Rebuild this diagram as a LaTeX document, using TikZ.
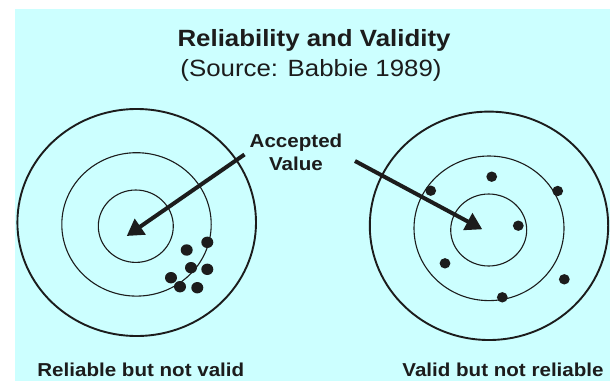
\documentclass[tikz,border=0pt]{standalone}
\usepackage{fontspec}
\setmainfont[FakeStretch=1.1]{Liberation Sans}
\usetikzlibrary{arrows.meta}
\definecolor{bgcyan}{HTML}{CCFFFF}
\definecolor{ink}{HTML}{1C1C1C}
\tikzset{
  ring/.style={draw=ink, line width=1.1pt},
  outerring/.style={draw=ink, line width=1.9pt},
  shot/.style={fill=ink, draw=none},
  pointer/.style={draw=ink, line width=4pt, -{Triangle[length=16.5pt,width=18.5pt]}},
  titletext/.style={inner sep=0pt, anchor=base, text=ink, font=\bfseries\fontsize{23.5}{28}\selectfont},
  subtext/.style={inner sep=0pt, anchor=base, text=ink, font=\fontsize{23.5}{28}\selectfont},
  labeltext/.style={inner sep=0pt, anchor=base, text=ink, font=\bfseries\fontsize{18.7}{23}\selectfont},
}
\begin{document}
\begin{tikzpicture}[x=1pt,y=-1pt]
\useasboundingbox (0,0) rectangle (610,381);
\fill[bgcyan] (15,9.3) rectangle (610,381);

% titles
\node[titletext] (title) at (314,46) {Reliability and Validity};
\node[subtext] (source) at (311,76.5) {(Source: Babbie 1989)};

% left target
\draw[outerring] (136.7,222.5) ellipse [x radius=119.3, y radius=113.5];
\draw[ring] (136.5,224.4) ellipse [x radius=74.7, y radius=71.7];
\draw[ring] (135.8,226.2) ellipse [x radius=37.5, y radius=36.2];

% right target
\draw[outerring] (489,225.8) ellipse [x radius=119.2, y radius=114.2];
\draw[ring] (489,228.3) ellipse [x radius=75, y radius=72.3];
\draw[ring] (488.7,230) ellipse [x radius=38, y radius=36];

% left shots (clustered)
\foreach \x/\y in {207.3/242.3, 186.7/250, 191/267.7, 207.3/269.3, 171/277.7, 180/286.7, 197.3/287.7}
  \fill[shot] (\x,\y) ellipse [x radius=6, y radius=5.7];

% right shots (scattered)
\foreach \x/\y in {430.7/190.7, 491.7/176.7, 557.7/191, 518.3/225.7, 445/263.3, 564.3/279.3, 502.3/297.3}
  \fill[shot] (\x,\y) ellipse [x radius=5.4, y radius=5.2];

% accepted value label and arrows
\node[labeltext] (acc) at (296,147.3) {Accepted};
\node[labeltext] (val) at (296,170.7) {Value};
\coordinate (lstart) at (244.5,154.5);
\coordinate (ltip) at (126.7,236);
\coordinate (rstart) at (355,161);
\coordinate (rtip) at (482.3,229.3);
\draw[pointer] (lstart) -- (ltip);
\draw[pointer] (rstart) -- (rtip);

% bottom labels
\node[labeltext] (lcap) at (140.8,376.7) {Reliable but not valid};
\node[labeltext] (rcap) at (503,376.7) {Valid but not reliable};
\end{tikzpicture}
\end{document}
